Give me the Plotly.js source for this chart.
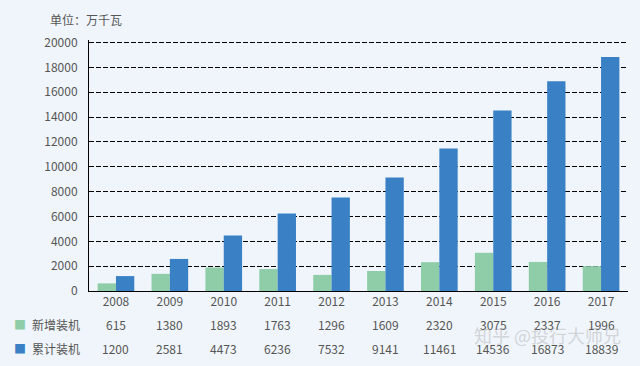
<!DOCTYPE html>
<html>
<head>
<meta charset="utf-8">
<script src="https://cdn.plot.ly/plotly-3.0.1.min.js"></script>
<style>html,body{margin:0;padding:0;background:#F0F5FB;}#chart{width:640px;height:366px;}</style>
</head>
<body>
<div id="chart"></div>
<script>
const years = ['2008','2009','2010','2011','2012','2013','2014','2015','2016','2017'];
const newInstalled = [615,1380,1893,1763,1296,1609,2320,3075,2337,1996];
const cumulative = [1200,2581,4473,6236,7532,9141,11461,14536,16873,18839];
const seriesNames = ['新增装机','累计装机'];
const unitLabel = '单位：万千瓦';
const watermark = '知乎 @投行大师兄';
const yTicks = [0,2000,4000,6000,8000,10000,12000,14000,16000,18000,20000];

const colors = ['#8ECDA8','#3A80C5'];
const textColor = '#555555';
const fontFam = '"Noto Sans CJK SC", "Noto Sans", sans-serif';

const traces = [
  {type:'bar', x:years, y:newInstalled, name:seriesNames[0], marker:{color:colors[0]}},
  {type:'bar', x:years, y:cumulative, name:seriesNames[1], marker:{color:colors[1]}}
];

const annotations = [];
const rows = [newInstalled, cumulative];
const rowY = [-0.133, -0.229];
rows.forEach((vals, r) => {
  annotations.push({xref:'paper', yref:'paper', x:-0.128, y:rowY[r], text:'■', showarrow:false,
    font:{color:colors[r], size:12, family:fontFam}, xanchor:'center', yanchor:'middle'});
  annotations.push({xref:'paper', yref:'paper', x:-0.11, y:rowY[r], text:seriesNames[r], showarrow:false,
    font:{color:textColor, size:12, family:fontFam}, xanchor:'left', yanchor:'middle'});
  vals.forEach((v, i) => {
    annotations.push({xref:'x', yref:'paper', x:i, y:rowY[r], text:String(v), showarrow:false,
      font:{color:textColor, size:12, family:fontFam}, xanchor:'center', yanchor:'middle'});
  });
});
annotations.push({xref:'paper', yref:'paper', x:-0.076, y:1.08, text:unitLabel, showarrow:false,
  font:{color:textColor, size:12, family:fontFam}, xanchor:'left', yanchor:'middle'});
annotations.push({xref:'paper', yref:'paper', x:0.85, y:-0.175, text:watermark, showarrow:false,
  font:{color:'rgba(160,160,160,0.4)', size:18, family:fontFam}, xanchor:'center', yanchor:'middle'});

const layout = {
  width:640, height:366,
  margin:{l:89, r:12, t:40, b:75},
  paper_bgcolor:'#F0F5FB', plot_bgcolor:'#F0F5FB',
  barmode:'group', bargap:0.32, bargroupgap:0,
  showlegend:false,
  font:{family:fontFam, color:textColor, size:12},
  xaxis:{type:'category', showline:true, linecolor:'#000', linewidth:1, showgrid:false,
    ticks:'', tickfont:{size:12, color:textColor}, fixedrange:true},
  yaxis:{range:[0,20200], tickvals:yTicks,
    tickformat:'d', showline:true, linecolor:'#000', linewidth:1,
    gridcolor:'#000', griddash:'5px,2px', gridwidth:1, zeroline:false, ticks:'',
    tickfont:{size:12, color:textColor}, ticklabelstandoff:8, fixedrange:true},
  annotations:annotations
};

Plotly.newPlot('chart', traces, layout, {displayModeBar:false, staticPlot:true});
</script>
</body>
</html>
